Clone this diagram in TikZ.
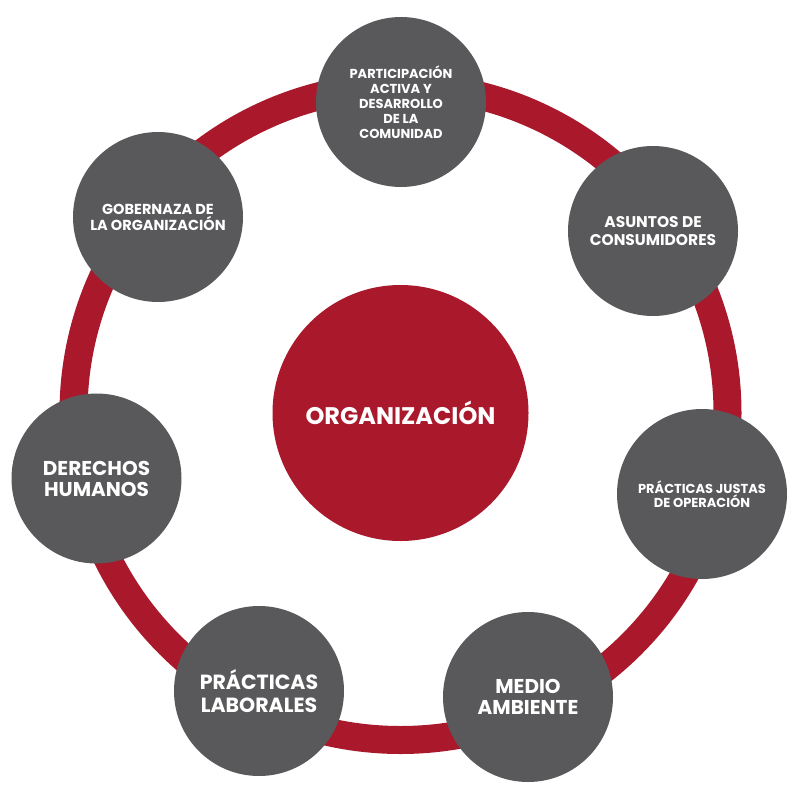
\documentclass[tikz,border=0pt]{standalone}
\usepackage{fontspec}
\setmainfont{Poppins}
\definecolor{rojoAnillo}{HTML}{AA182C}
\definecolor{grisTema}{HTML}{59595B}
\begin{document}
\begin{tikzpicture}[x=1pt, y=-1pt,
    tema/.style 2 args={circle, fill=grisTema, minimum size=170pt, inner sep=0pt,
      text=white, align=center, font=\bfseries\fontsize{#1}{#2}\selectfont}]
  \useasboundingbox (0,0) rectangle (800,800);
  \draw[line width=28pt, rojoAnillo] (400.5,413) circle (327pt);
  \node[circle, fill=rojoAnillo, minimum size=256pt, inner sep=0pt, text=white,
    font=\bfseries\fontsize{24}{28}\selectfont] (org) at (400.5,413) {ORGANIZACIÓN};
  \node[tema={13}{15}] (comunidad) at (401,102)
    {PARTICIPACIÓN\\ACTIVA Y\\DESARROLLO\\DE LA\\COMUNIDAD};
  \node[tema={15.5}{18}] (consumidores) at (653,231) {ASUNTOS DE\\CONSUMIDORES};
  \node[tema={13}{14}] (operacion) at (702,494) {PRÁCTICAS JUSTAS\\DE OPERACIÓN};
  \node[tema={20}{21}] (ambiente) at (528,697) {MEDIO\\AMBIENTE};
  \node[tema={20.5}{23}] (laborales) at (259,691) {PRÁCTICAS\\LABORALES};
  \node[tema={20}{21}] (derechos) at (96.5,478.5) {DERECHOS\\HUMANOS};
  \node[tema={14.5}{16}] (gobernanza) at (158,217) {GOBERNAZA DE\\LA ORGANIZACIÓN};
\end{tikzpicture}
\end{document}
